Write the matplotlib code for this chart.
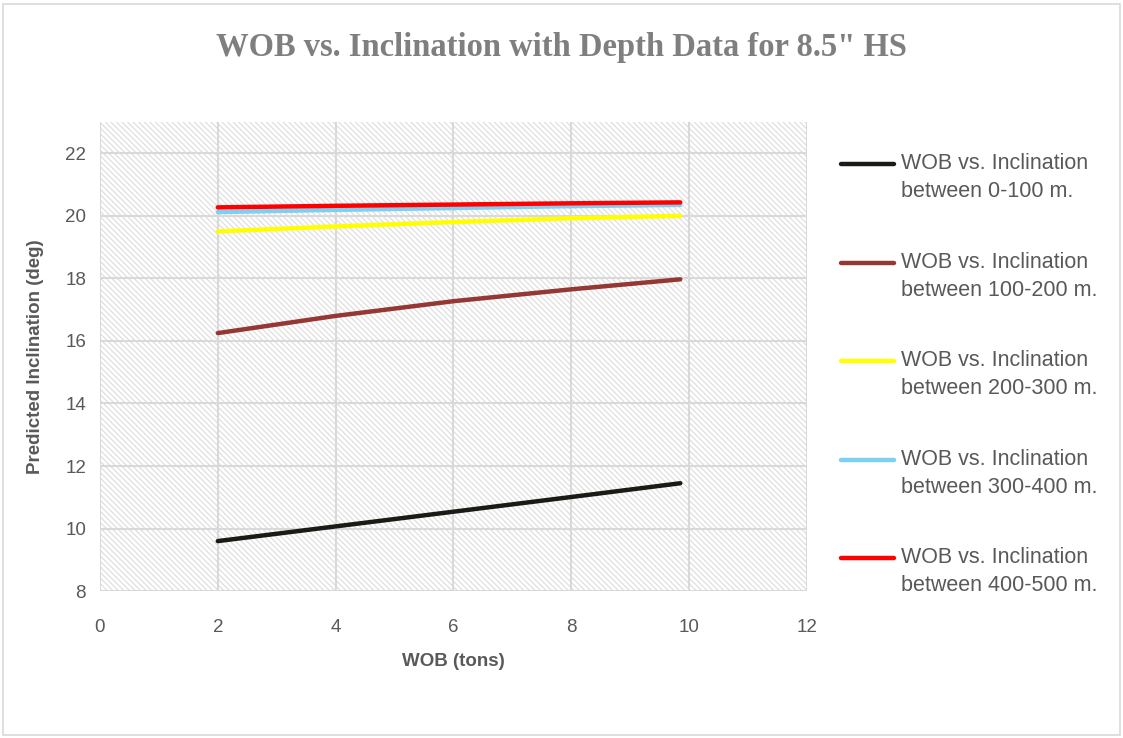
import numpy as np
import matplotlib
matplotlib.use('Agg')
import matplotlib.pyplot as plt
from matplotlib.patches import Rectangle

wob = [2, 4, 6, 8, 9.85]
incl_0_100 = [9.6, 10.07, 10.54, 11.01, 11.45]
incl_100_200 = [16.25, 16.8, 17.27, 17.65, 17.97]
incl_200_300 = [19.5, 19.66, 19.8, 19.92, 20.0]
incl_300_400 = [20.12, 20.19, 20.25, 20.31, 20.35]
incl_400_500 = [20.27, 20.32, 20.36, 20.4, 20.43]

labels = ['WOB vs. Inclination\nbetween 0-100 m.',
          'WOB vs. Inclination\nbetween 100-200 m.',
          'WOB vs. Inclination\nbetween 200-300 m.',
          'WOB vs. Inclination\nbetween 300-400 m.',
          'WOB vs. Inclination\nbetween 400-500 m.']
series = [incl_0_100, incl_100_200, incl_200_300, incl_300_400, incl_400_500]
colors = ['#1c1a14', '#953735', '#ffff00', '#7fcff0', '#ff0000']

plt.rcParams['font.family'] = ['Liberation Sans', 'DejaVu Sans']
plt.rcParams['hatch.linewidth'] = 0.8

fig = plt.figure(figsize=(11.23, 7.38), dpi=100)
fig.patches.append(Rectangle((0.003, 0.004), 0.994, 0.99, transform=fig.transFigure,
                             fill=False, edgecolor='#d9d9d9', linewidth=1.2))

ax = fig.add_axes([0.089, 0.199, 0.6296, 0.6357])
ax.patch.set_visible(False)
# hatched plot area background
ax.add_patch(Rectangle((0, 0), 1, 1, transform=ax.transAxes, facecolor='white',
                       edgecolor='#dcdcdc', hatch='\\' * 6, linewidth=0, zorder=0))

for y, c, lab in zip(series, colors, labels):
    ax.plot(wob, y, color=c, linewidth=3.2, solid_capstyle='round', label=lab, zorder=3)

ax.set_xlim(0, 12)
ax.set_ylim(8, 23)
ax.set_xticks(np.arange(0, 13, 2))
ax.set_yticks(np.arange(8, 23, 2))
ax.grid(True, color='#d9d9d9', linewidth=1.5, zorder=1)
ax.set_axisbelow(True)
ax.tick_params(length=0, labelsize=13.5, labelcolor='#595959')
ax.tick_params(axis='x', pad=20)
ax.tick_params(axis='y', pad=10)
for s in ax.spines.values():
    s.set_visible(False)

ax.set_xlabel('WOB (tons)', fontsize=13.5, fontweight='bold', color='#595959', labelpad=12)
ax.set_ylabel('Predicted Inclination (deg)', fontsize=13.5, fontweight='bold', color='#595959', labelpad=15)

fig.text(0.5, 0.936, 'WOB vs. Inclination with Depth Data for 8.5" HS', ha='center', va='center',
         fontsize=23.5, fontweight='bold', color='#7f7f7f', family='Liberation Serif')

leg = ax.legend(loc='upper left', bbox_to_anchor=(1.02, 0.975), frameon=False,
                fontsize=15.5, labelspacing=2.29, handlelength=2.5, handletextpad=0.3)
for t in leg.get_texts():
    t.set_color('#595959')
    t.set_linespacing(1.45)
# handle sits next to the first line of each label, as in Excel
for ln in leg.get_lines():
    ln.set_ydata(np.asarray(ln.get_ydata()) + 10)

fig.savefig('out.png', dpi=100)
